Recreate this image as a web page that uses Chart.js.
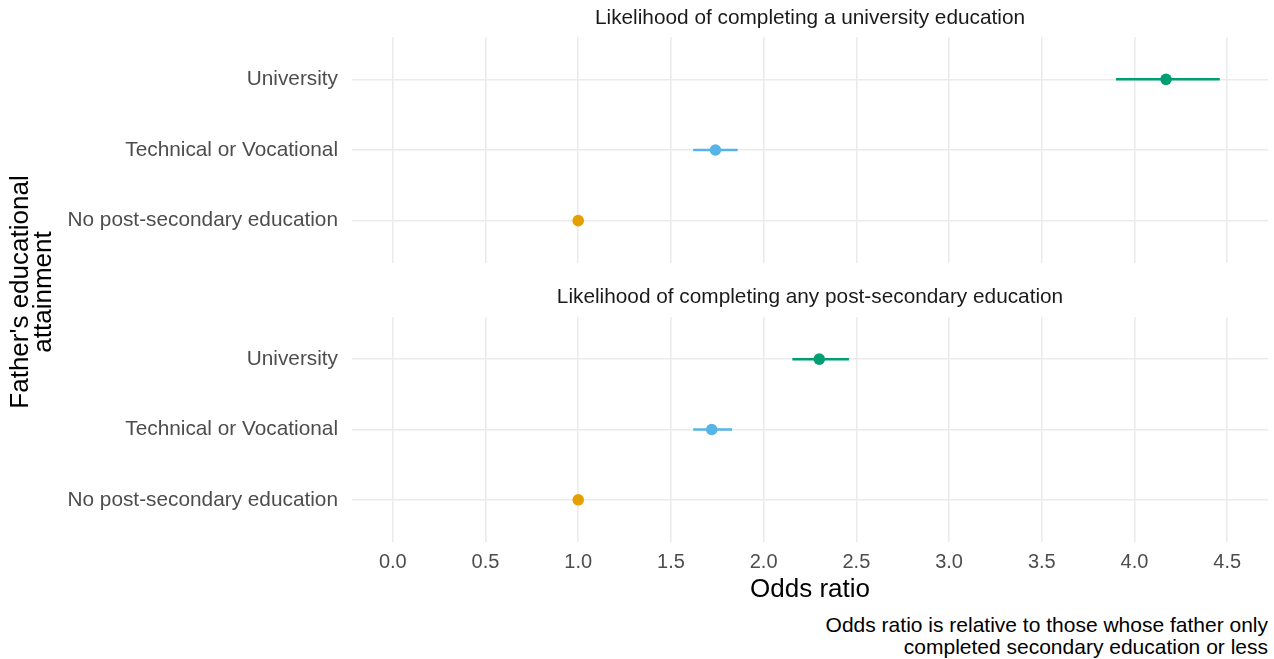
<!DOCTYPE html>
<html>
<head>
<meta charset="utf-8">
<script src="https://cdn.jsdelivr.net/npm/chart.js@4"></script>
<style>
  html, body { margin: 0; padding: 0; background: #ffffff; }
  #wrap { position: relative; width: 1274px; height: 659px; background: #ffffff; font-family: "Liberation Sans", Arial, sans-serif; overflow: hidden; }
  .panel { position: absolute; left: 0; width: 1274px; }
  #p1 { top: 0; height: 270px; }
  #p2 { top: 280px; height: 330px; }
  #ytitle { position: absolute; left: 31px; top: 292px; width: 340px; transform: translate(-50%, -50%) rotate(-90deg); text-align: center; font-size: 26px; line-height: 23px; color: #000000; white-space: nowrap; }
  #caption { position: absolute; right: 6px; top: 614px; text-align: right; font-size: 21px; line-height: 22px; color: #000000; white-space: nowrap; }
</style>
</head>
<body>
<div id="wrap">
  <div class="panel" id="p1"><canvas id="c1"></canvas></div>
  <div class="panel" id="p2"><canvas id="c2"></canvas></div>
  <div id="ytitle">Father's educational<br>attainment</div>
  <div id="caption">Odds ratio is relative to those whose father only<br>completed secondary education or less</div>
</div>
<script>
// ---- data ----
const categories = ["No post-secondary education", "Technical or Vocational", "University"];
const panelTitles = ["Likelihood of completing a university education", "Likelihood of completing any post-secondary education"];
const uniOdds = [1.00, 1.74, 4.17];
const uniLow  = [1.00, 1.62, 3.90];
const uniHigh = [1.00, 1.86, 4.46];
const anyOdds = [1.00, 1.72, 2.30];
const anyLow  = [1.00, 1.62, 2.155];
const anyHigh = [1.00, 1.83, 2.46];
const xTickValues = [0, 0.5, 1, 1.5, 2, 2.5, 3, 3.5, 4, 4.5];
const xTitle = "Odds ratio";

// ---- styles ----
const palette = ["#E69F00", "#56B4E9", "#009E73"];
const gridColor = "#ebebeb";
const fontFamily = "'Liberation Sans', Arial, sans-serif";

function buildDatasets(odds, low, high) {
  const ds = [];
  categories.forEach((c, i) => {
    ds.push({
      data: [{ x: low[i], y: i + 1 }, { x: high[i], y: i + 1 }],
      showLine: true,
      borderColor: palette[i],
      borderWidth: 2.5,
      pointRadius: 0,
      pointHoverRadius: 0
    });
  });
  ds.push({
    data: categories.map((c, i) => ({ x: odds[i], y: i + 1 })),
    backgroundColor: palette,
    borderWidth: 0,
    pointRadius: 5.8,
    pointHoverRadius: 5.8
  });
  return ds;
}

function makeChart(id, title, odds, low, high, showX, titlePad) {
  return new Chart(document.getElementById(id), {
    type: 'scatter',
    data: { datasets: buildDatasets(odds, low, high) },
    options: {
      responsive: true,
      maintainAspectRatio: false,
      animation: false,
      layout: { padding: { left: 0, right: 6, top: 0, bottom: showX ? 0 : 7 } },
      plugins: {
        legend: { display: false },
        tooltip: { enabled: false },
        title: {
          display: true,
          text: title,
          fullSize: false,
          color: '#1a1a1a',
          font: { family: fontFamily, size: 20.8, weight: 'normal', lineHeight: 1.2 },
          padding: titlePad
        }
      },
      scales: {
        x: {
          type: 'linear',
          min: -0.22,
          max: 4.72,
          afterBuildTicks: (s) => { s.ticks = xTickValues.map(v => ({ value: v })); },
          afterFit: (s) => { s.height = showX ? 68 : 0; s.paddingLeft = 0; s.paddingRight = 0; },
          grid: { color: gridColor, lineWidth: 1.6, drawTicks: false },
          border: { display: false },
          ticks: {
            display: showX,
            color: '#4d4d4d',
            padding: 8,
            font: { family: fontFamily, size: 20, lineHeight: 1.2 },
            callback: (v) => Number(v).toFixed(1)
          },
          title: {
            display: showX,
            text: xTitle,
            color: '#000000',
            font: { family: fontFamily, size: 26, lineHeight: 1.2 },
            padding: { top: 0, bottom: 4.4 }
          }
        },
        y: {
          type: 'linear',
          min: 0.4,
          max: 3.6,
          afterBuildTicks: (s) => { s.ticks = [1, 2, 3].map(v => ({ value: v })); },
          afterFit: (s) => { s.width = 352; s.paddingTop = 0; s.paddingBottom = 0; },
          grid: { color: gridColor, lineWidth: 1.6, drawTicks: false },
          border: { display: false },
          ticks: {
            color: '#4d4d4d',
            padding: 14,
            font: { family: fontFamily, size: 20.8 },
            callback: (v) => categories[Math.round(v) - 1]
          }
        }
      }
    }
  });
}

makeChart('c1', panelTitles[0], uniOdds, uniLow, uniHigh, false, { top: 5.5, bottom: 6.5 });
makeChart('c2', panelTitles[1], anyOdds, anyLow, anyHigh, true, { top: 4.5, bottom: 7.5 });
</script>
</body>
</html>
